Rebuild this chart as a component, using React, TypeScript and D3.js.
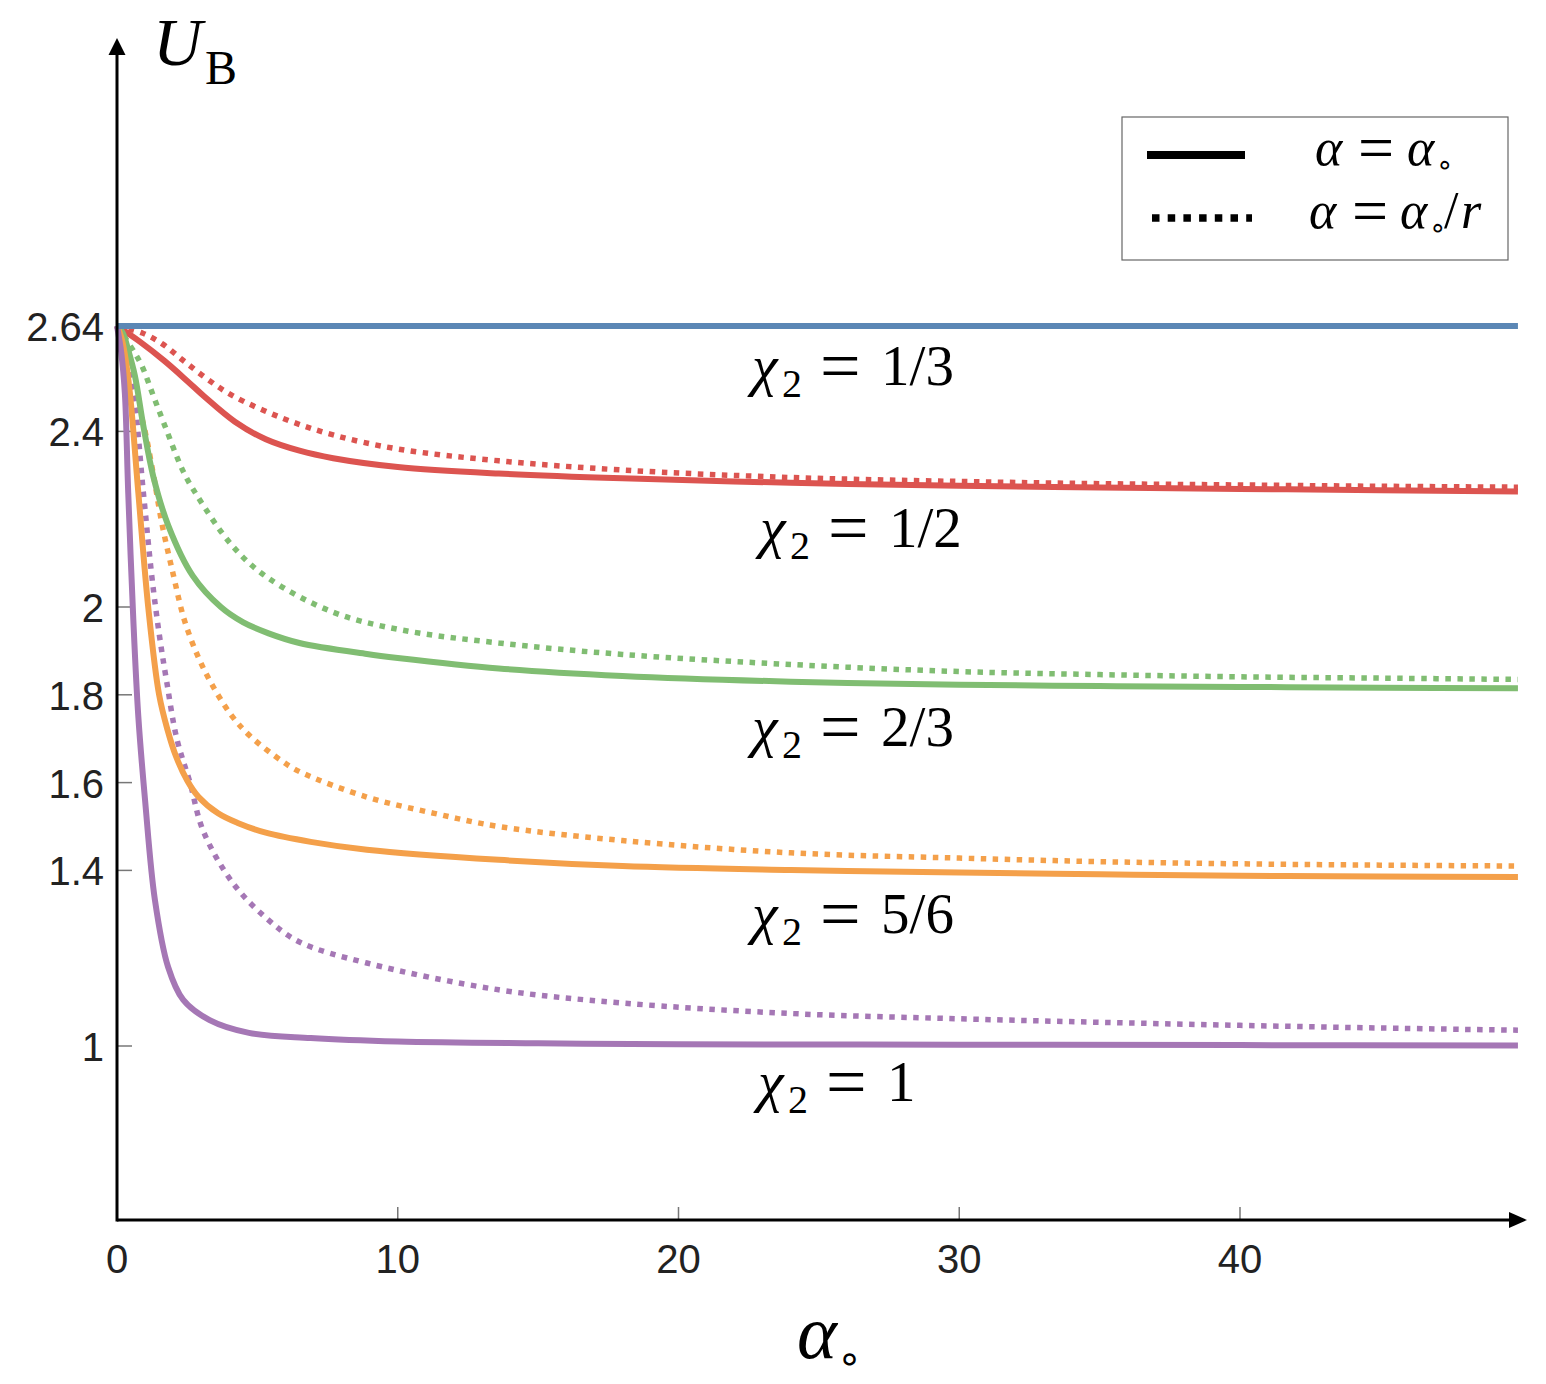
import { useRef, useEffect } from 'react'
import * as d3 from 'd3'

type Pt = [number, number]

const xTicks = [0, 10, 20, 30, 40]
const yTicks = [1, 1.4, 1.6, 1.8, 2, 2.4, 2.64]
const yTickLabels = ['1', '1.4', '1.6', '1.8', '2', '2.4', '2.64']

// chi2 = 1/3 : both alpha choices give the same flat line
const chi13: Pt[] = [[0, 2.64], [49.9, 2.64]]

const chi12Solid: Pt[] = [
  [0, 2.64], [0.8, 2.605], [1.7, 2.56], [2.5, 2.515], [3.1, 2.48], [4.2, 2.422],
  [5.3, 2.382], [6.5, 2.356], [7.7, 2.339], [10, 2.319], [13.6, 2.304], [18, 2.293],
  [24, 2.283], [30, 2.276], [35, 2.272], [40, 2.269], [45, 2.266], [49.9, 2.263]
]
const chi12Dotted: Pt[] = [
  [0, 2.64], [0.9, 2.624], [1.6, 2.6], [2.35, 2.562], [3.2, 2.52], [4.1, 2.482],
  [5.9, 2.43], [7.7, 2.392], [10, 2.36], [13.6, 2.333], [18, 2.312], [24, 2.295],
  [30, 2.286], [35, 2.281], [40, 2.278], [45, 2.275], [49.9, 2.273]
]

const chi23Solid: Pt[] = [
  [0, 2.64], [0.2, 2.625], [0.4, 2.585], [0.64, 2.526], [0.94, 2.412], [1.29, 2.298],
  [1.83, 2.185], [2.7, 2.071], [3.7, 2.0], [4.5, 1.965], [5.4, 1.94], [6.5, 1.918],
  [8.9, 1.893], [10, 1.884], [13.6, 1.86], [18, 1.843], [24, 1.83], [30, 1.823],
  [35, 1.82], [40, 1.818], [45, 1.816], [49.9, 1.815]
]
const chi23Dotted: Pt[] = [
  [0, 2.64], [0.3, 2.612], [0.57, 2.585], [0.88, 2.55], [1.3, 2.48], [1.71, 2.412],
  [2.35, 2.31], [2.84, 2.255], [4.1, 2.14], [5.34, 2.068], [7.7, 1.988], [10.1, 1.948],
  [13.6, 1.918], [18, 1.892], [24, 1.869], [30, 1.853], [35, 1.846], [40, 1.841],
  [45, 1.838], [49.9, 1.835]
]

const chi56Solid: Pt[] = [
  [0, 2.64], [0.15, 2.615], [0.28, 2.575], [0.46, 2.487], [0.76, 2.26], [1.12, 1.995],
  [1.5, 1.8], [1.8, 1.72], [2.1, 1.66], [2.5, 1.605], [2.9, 1.568], [3.6, 1.53],
  [4.3, 1.508], [5.3, 1.486], [6.9, 1.465], [8.9, 1.447], [13.6, 1.424], [18, 1.41],
  [24, 1.401], [30, 1.395], [35, 1.391], [40, 1.388], [45, 1.386], [49.9, 1.385]
]
const chi56Dotted: Pt[] = [
  [0, 2.64], [0.3, 2.58], [0.6, 2.5], [1.0, 2.4], [1.3, 2.3], [1.6, 2.19], [2.0, 2.075],
  [2.4, 1.97], [2.9, 1.885], [3.43, 1.818], [4.09, 1.752], [4.74, 1.706], [5.9, 1.648],
  [6.5, 1.625], [8.9, 1.567], [11.3, 1.53], [13.6, 1.5], [18, 1.468], [24, 1.44],
  [30, 1.428], [35, 1.42], [40, 1.415], [45, 1.412], [49.9, 1.41]
]

const chi1Solid: Pt[] = [
  [0, 2.64], [0.15, 2.58], [0.28, 2.487], [0.4, 2.26], [0.58, 1.973], [0.76, 1.75],
  [1.0, 1.56], [1.35, 1.333], [1.82, 1.18], [2.36, 1.105], [3.3, 1.059], [4.7, 1.03],
  [6.9, 1.018], [10, 1.01], [15, 1.006], [20, 1.004], [30, 1.003], [40, 1.002], [49.9, 1.001]
]
const chi1Dotted: Pt[] = [
  [0, 2.64], [0.3, 2.56], [0.58, 2.487], [0.94, 2.26], [1.24, 2.07], [1.5, 1.94],
  [1.77, 1.83], [2.13, 1.7], [2.6, 1.6], [3.07, 1.49], [4.13, 1.371], [5.34, 1.29],
  [6.5, 1.237], [8.9, 1.189], [13.6, 1.128], [18, 1.098], [24, 1.074], [30, 1.062],
  [35, 1.054], [40, 1.047], [45, 1.041], [49.9, 1.036]
]

const series = [
  { pts: chi12Dotted, color: '#dc5450', dotted: true },
  { pts: chi23Dotted, color: '#80bd72', dotted: true },
  { pts: chi56Dotted, color: '#f4a04a', dotted: true },
  { pts: chi1Dotted, color: '#a577b5', dotted: true },
  { pts: chi12Solid, color: '#dc5450', dotted: false },
  { pts: chi23Solid, color: '#80bd72', dotted: false },
  { pts: chi56Solid, color: '#f4a04a', dotted: false },
  { pts: chi1Solid, color: '#a577b5', dotted: false },
  { pts: chi13, color: '#5b87b5', dotted: false }
]

// curve labels: left edge (alpha) and baseline (U_B)
const chiLabels = [
  { value: '1/3', a: 22.62, u: 2.506 },
  { value: '1/2', a: 22.9, u: 2.137 },
  { value: '2/3', a: 22.62, u: 1.683 },
  { value: '5/6', a: 22.62, u: 1.257 },
  { value: '1', a: 22.83, u: 0.875 }
]

const SERIF = '"Liberation Serif", "Times New Roman", serif'
const SANS = '"Liberation Sans", Arial, Helvetica, sans-serif'

function App() {
  const containerRef = useRef<HTMLDivElement>(null)

  useEffect(() => {
    if (!containerRef.current) return
    const container = containerRef.current
    container.innerHTML = ''

    const width = 1546
    const height = 1384

    const svg = d3.select(container)
      .append('svg')
      .attr('width', width)
      .attr('height', height)
      .style('display', 'block')

    const x = d3.scaleLinear().domain([0, 50]).range([117, 117 + 50 * 28.075])
    const y = d3.scaleLinear().domain([1, 2]).range([1046, 607])

    const x0 = x(0)
    const yAxisY = 1220

    // ticks
    svg.selectAll('line.xtick')
      .data(xTicks.slice(1))
      .enter()
      .append('line')
      .attr('x1', d => x(d)).attr('x2', d => x(d))
      .attr('y1', yAxisY).attr('y2', yAxisY - 13)
      .attr('stroke', '#777').attr('stroke-width', 1.5)

    svg.selectAll('line.ytick')
      .data(yTicks)
      .enter()
      .append('line')
      .attr('x1', x0).attr('x2', x0 + 15)
      .attr('y1', d => y(d)).attr('y2', d => y(d))
      .attr('stroke', '#777').attr('stroke-width', 1.5)

    svg.selectAll('text.xlab')
      .data(xTicks)
      .enter()
      .append('text')
      .attr('x', d => x(d))
      .attr('y', 1273)
      .attr('text-anchor', 'middle')
      .attr('font-family', SANS)
      .attr('font-size', 40)
      .attr('fill', '#222')
      .text(d => String(d))

    svg.selectAll('text.ylab')
      .data(yTicks)
      .enter()
      .append('text')
      .attr('x', 104)
      .attr('y', d => y(d) + 15)
      .attr('text-anchor', 'end')
      .attr('font-family', SANS)
      .attr('font-size', 40)
      .attr('fill', '#222')
      .text((_, i) => yTickLabels[i])

    // curves
    const line = d3.line<Pt>()
      .x(d => x(d[0]))
      .y(d => y(d[1]))
      .curve(d3.curveCatmullRom.alpha(0.5))

    series.forEach(s => {
      const p = svg.append('path')
        .attr('d', line(s.pts))
        .attr('fill', 'none')
        .attr('stroke', s.color)
      if (s.dotted) {
        p.attr('stroke-width', 5.5).attr('stroke-dasharray', '5.5,6.5')
      } else {
        p.attr('stroke-width', 6)
      }
    })

    // axes
    svg.append('line')
      .attr('x1', x0).attr('x2', 1515)
      .attr('y1', yAxisY).attr('y2', yAxisY)
      .attr('stroke', 'black').attr('stroke-width', 3)
    svg.append('line')
      .attr('x1', x0).attr('x2', x0)
      .attr('y1', yAxisY + 1.5).attr('y2', 50)
      .attr('stroke', 'black').attr('stroke-width', 3)
    svg.append('path')
      .attr('d', `M${x0},38L${x0 - 8.5},55L${x0 + 8.5},55Z`)
      .attr('fill', 'black')
    svg.append('path')
      .attr('d', `M1527,${yAxisY}L1509,${yAxisY - 8}L1509,${yAxisY + 8}Z`)
      .attr('fill', 'black')

    // axis titles
    const yt = svg.append('text').attr('font-family', SERIF).attr('fill', 'black')
    yt.append('tspan').attr('x', 153).attr('y', 65).attr('font-size', 68)
      .attr('font-style', 'italic').text('U')
    yt.append('tspan').attr('x', 205).attr('y', 84).attr('font-size', 48).text('B')

    const xt = svg.append('text').attr('font-family', SERIF).attr('fill', 'black')
    xt.append('tspan').attr('x', 797).attr('y', 1358).attr('font-size', 76)
      .attr('font-style', 'italic').text('α')
    xt.append('tspan').attr('x', 837).attr('y', 1372).attr('font-size', 40)
      .attr('font-family', '"DejaVu Sans", sans-serif').text('∘')

    // curve labels
    chiLabels.forEach(l => {
      const lx = x(l.a)
      const ly = y(l.u)
      const t = svg.append('text').attr('font-family', SERIF).attr('fill', 'black')
      t.append('tspan').attr('x', lx).attr('y', ly).attr('font-size', 58)
        .attr('font-style', 'italic').text('χ')
      t.append('tspan').attr('x', lx + 30).attr('y', ly + 12).attr('font-size', 40).text('2')
      t.append('tspan').attr('x', lx + 68).attr('y', ly + 5).attr('font-size', 72).text('=')
      t.append('tspan').attr('x', lx + 129).attr('y', ly).attr('font-size', 57).text(l.value)
    })

    // legend
    const lg = svg.append('g')
    lg.append('rect')
      .attr('x', 1122).attr('y', 117).attr('width', 386).attr('height', 143)
      .attr('fill', 'white').attr('stroke', '#666').attr('stroke-width', 1.2)
    lg.append('line')
      .attr('x1', 1147).attr('x2', 1245).attr('y1', 155).attr('y2', 155)
      .attr('stroke', 'black').attr('stroke-width', 8)
    lg.append('line')
      .attr('x1', 1152).attr('x2', 1252).attr('y1', 218).attr('y2', 218)
      .attr('stroke', 'black').attr('stroke-width', 7.5).attr('stroke-dasharray', '7.5,8.2')

    const r1 = lg.append('text').attr('font-family', SERIF).attr('font-size', 52).attr('fill', 'black')
    r1.append('tspan').attr('x', 1315).attr('y', 165).attr('font-style', 'italic').text('α')
    r1.append('tspan').attr('x', 1358).attr('y', 169).attr('font-size', 64).text('=')
    r1.append('tspan').attr('x', 1407).attr('y', 165).attr('font-style', 'italic').text('α')
    r1.append('tspan').attr('x', 1436).attr('y', 174).attr('font-size', 28)
      .attr('font-family', '"DejaVu Sans", sans-serif').text('∘')

    const r2 = lg.append('text').attr('font-family', SERIF).attr('font-size', 52).attr('fill', 'black')
    r2.append('tspan').attr('x', 1309).attr('y', 228).attr('font-style', 'italic').text('α')
    r2.append('tspan').attr('x', 1352).attr('y', 232).attr('font-size', 64).text('=')
    r2.append('tspan').attr('x', 1400).attr('y', 228).attr('font-style', 'italic').text('α')
    r2.append('tspan').attr('x', 1429).attr('y', 237).attr('font-size', 28)
      .attr('font-family', '"DejaVu Sans", sans-serif').text('∘')
    r2.append('tspan').attr('x', 1444).attr('y', 228).text('/')
    r2.append('tspan').attr('x', 1461).attr('y', 228).attr('font-style', 'italic').text('r')
  }, [])

  return <div ref={containerRef} style={{ position: 'absolute', left: 0, top: 0 }} />
}

export default App
